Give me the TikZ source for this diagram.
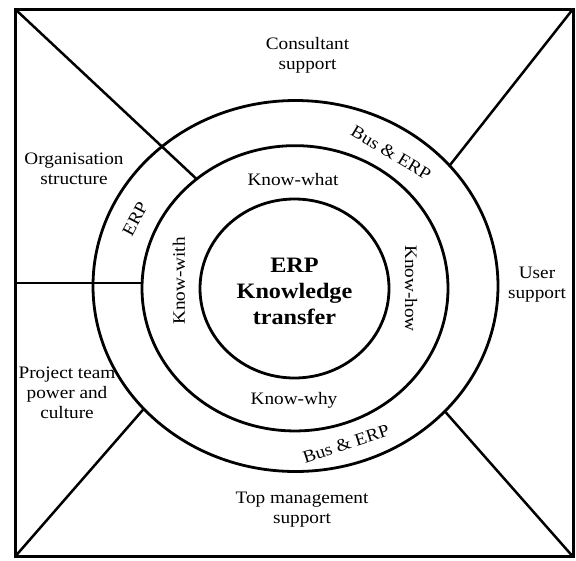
\documentclass[tikz,border=0pt]{standalone}
\usepackage{fontspec}
\setmainfont[FakeStretch=1.1]{Liberation Serif}
\usetikzlibrary{shapes.geometric}
\begin{document}
\begin{tikzpicture}[x=1pt,y=-1pt,
  ring/.style={draw, ellipse, line width=2.8pt, inner sep=0pt, outer sep=0pt},
  spoke/.style={line width=2.5pt},
  lbl/.style={font=\fontsize{17.5}{20}\selectfont, align=center, inner sep=0pt},
  core/.style={font=\fontsize{22}{26}\selectfont\bfseries, align=center, inner sep=0pt}]
\useasboundingbox (0,0) rectangle (576,560);
\node[draw, line width=3pt, minimum width=558pt, minimum height=547.7pt, inner sep=0pt, outer sep=0pt] (frame) at (294,282.85) {};
\node[ring, minimum width=405pt, minimum height=371pt] (outer) at (295.5,286) {};
\node[ring, minimum width=306pt, minimum height=285.3pt] (middle) at (295,288.3) {};
\node[ring, minimum width=189pt, minimum height=179pt] (inner) at (294.5,288.5) {};
% spokes
\draw[spoke] (frame.north west) -- (middle.132.9);
\draw[spoke] (frame.north east) -- (outer.38.7);
\draw[spoke] (frame.south east) -- (outer.-40.8);
\draw[spoke] (frame.south west) -- (outer.219.4);
\draw[spoke] (middle.178.8) -- (middle.178.8 -| frame.west);
% labels
\node[core] (erpkt) at (294.5,291) {ERP\\Knowledge\\transfer};
\node[lbl] (consult) at (307.5,55) {Consultant\\support};
\node[lbl] (org) at (74,169) {Organisation\\structure};
\node[lbl] (user) at (537,285) {User\\support};
\node[lbl] (project) at (67,393) {Project team\\power and\\culture};
\node[lbl] (topm) at (302,510) {Top management\\support};
\node[lbl] (kwhat) at (293,180) {Know-what};
\node[lbl] (kwhy) at (294,400) {Know-why};
\node[lbl, rotate=90] (kwith) at (179,281) {Know-with};
\node[lbl, rotate=-90] (khow) at (411,288.5) {Know-how};
\node[lbl, rotate=62] (erpring) at (135,219) {ERP};
\node[lbl, rotate=-31] (bus1) at (391,153) {Bus \& ERP};
\node[lbl, rotate=18] (bus2) at (346,444) {Bus \& ERP};
\end{tikzpicture}
\end{document}
